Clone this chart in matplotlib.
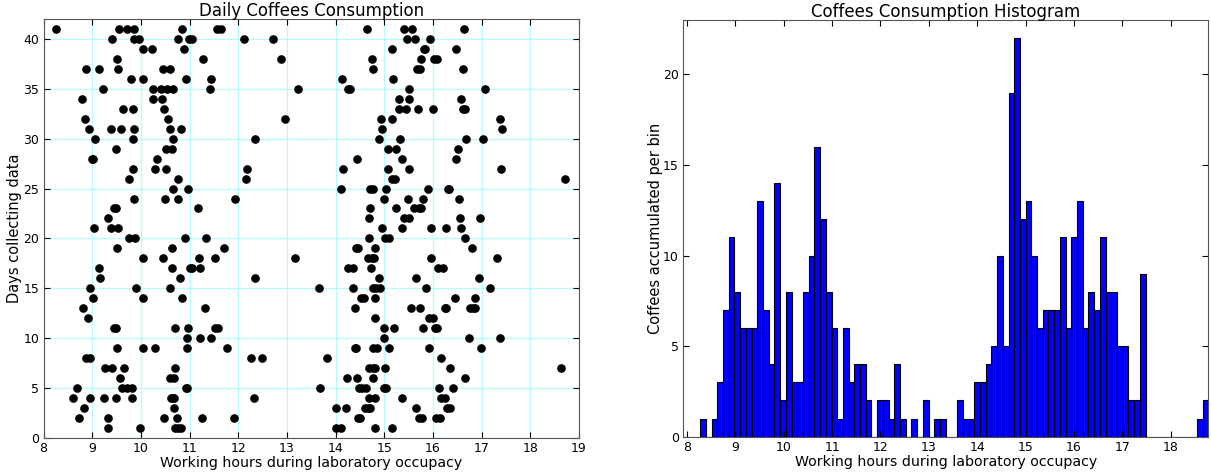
import numpy as np
import matplotlib
matplotlib.use('Agg')
import matplotlib.pyplot as plt

# Hora de cada cafe, agrupada por dia (dia 1 ... dia 41)
days = np.arange(1, 42)
hours_per_day = [
    [9.32, 9.99, 10.71, 10.76, 10.82, 14.01, 14.12, 14.82, 15.15],                         # 1
    [8.73, 9.32, 10.47, 10.74, 11.25, 11.92, 14.47, 14.50, 15.71, 15.77, 16.06, 16.15],    # 2
    [8.84, 10.68, 14.01, 14.21, 14.60, 14.66, 14.71, 15.65, 16.29, 16.36],                 # 3
    [8.61, 8.96, 9.25, 9.49, 9.82, 10.61, 10.65, 10.69, 12.32, 14.69, 14.82, 15.36, 16.17, 16.24],
    [8.68, 9.61, 9.71, 9.82, 10.92, 10.94, 13.68, 14.49, 14.55, 14.62, 14.99, 15.04, 16.13, 16.42],
    [9.57, 10.60, 10.68, 14.23, 14.44, 14.76, 16.66],                                      # 6
    [9.27, 9.40, 9.65, 10.71, 14.69, 14.76, 14.82, 15.02, 16.36, 18.64],                   # 7
    [8.88, 8.95, 12.27, 12.48, 13.82, 16.16],                                              # 8
    [9.50, 10.05, 10.29, 10.95, 11.76, 14.39, 14.42, 14.76, 14.86, 15.09, 15.93, 16.99],   # 9
    [10.95, 11.21, 11.45, 14.99, 16.75, 17.37],                                            # 10
    [9.45, 9.48, 10.71, 10.97, 11.53, 11.58, 15.00, 15.20, 15.79, 16.05, 16.09],           # 11
    [8.92, 14.81, 15.92, 16.01],                                                           # 12
    [8.82, 11.31, 14.39, 15.55, 15.73, 16.24, 16.27, 16.77, 16.83, 16.87],                 # 13
    [9.02, 10.05, 10.84, 14.52, 14.58, 14.82, 16.46, 16.86],                               # 14
    [8.96, 9.90, 10.59, 13.66, 14.36, 14.76, 14.83, 14.91, 15.86, 17.18],                  # 15
    [9.16, 10.81, 12.35, 14.90, 15.65, 16.95],                                             # 16
    [9.13, 10.63, 11.00, 11.04, 11.21, 14.25, 14.35, 14.73, 16.10, 16.20],                 # 17
    [10.05, 10.46, 11.20, 11.52, 13.16, 14.67, 14.74, 14.80, 15.97, 17.31],                # 18
    [9.50, 10.64, 11.71, 14.42, 14.47, 14.82, 16.81],                                      # 19
    [9.76, 9.87, 10.90, 11.33, 14.68, 15.01, 15.10, 16.66],                                # 20
    [9.04, 9.38, 9.53, 14.95, 15.36, 15.97, 16.27, 16.58],                                 # 21
    [9.33, 14.69, 15.41, 15.51, 16.56, 16.96],                                             # 22
    [9.45, 9.49, 11.18, 14.71, 15.25, 15.62, 15.71, 15.75],                                # 23
    [9.86, 10.49, 10.76, 11.93, 15.00, 15.49, 15.79, 16.54],                               # 24
    [10.66, 10.96, 14.12, 14.71, 14.76, 15.03, 15.89, 16.32, 16.34],                       # 25
    [9.76, 10.77, 12.16, 15.16, 15.22, 18.71],                                             # 26
    [9.84, 10.29, 10.52, 12.17, 14.16, 15.07, 15.50, 17.39],                               # 27
    [8.99, 9.01, 10.34, 14.45, 15.37, 16.47],                                              # 28
    [9.49, 10.52, 10.64, 15.07, 15.24, 16.52],                                             # 29
    [9.06, 9.84, 10.65, 12.34, 14.90, 15.32, 16.68, 17.03],                                # 30
    [8.94, 9.38, 9.60, 9.86, 10.59, 10.82, 14.95, 17.43],                                  # 31
    [8.86, 10.56, 12.97, 14.93, 15.16, 17.38],                                             # 32
    [9.63, 9.84, 10.48, 15.31, 15.45, 15.70, 16.01, 16.62, 16.66],                         # 33
    [8.78, 10.25, 10.43, 15.31, 15.50, 16.57],                                             # 34
    [9.23, 10.25, 10.42, 10.54, 10.66, 11.41, 13.23, 14.25, 14.29, 15.50, 17.08],          # 35
    [9.79, 10.05, 10.92, 11.45, 14.13, 15.19],                                             # 36
    [8.88, 9.14, 9.53, 10.46, 10.59, 14.77, 15.68, 15.73, 16.62],                          # 37
    [9.50, 11.28, 12.88, 14.75, 15.76, 16.03, 16.08],                                      # 38
    [10.04, 10.23, 10.88, 15.15, 15.81, 15.84, 16.48],                                     # 39
    [9.40, 9.86, 9.97, 10.76, 10.99, 11.05, 12.12, 12.71, 15.46, 15.64, 15.95],            # 40
    [8.25, 9.55, 9.72, 9.86, 10.84, 11.57, 11.64, 14.64, 15.41, 15.57, 16.63],             # 41
]

# Histograma: cafes por bin (89 bins entre la primera y la ultima hora)
hist_start = 8.275
hist_end = 18.775
hist_counts = [1, 0, 1, 3, 7, 11, 8, 6, 6, 6, 13, 7, 4, 14, 2, 8, 3, 3, 8, 10,
               16, 12, 8, 6, 1, 6, 3, 4, 4, 2, 0, 2, 2, 1, 4, 1, 0, 1, 0, 2,
               0, 1, 1, 0, 0, 2, 1, 1, 3, 3, 4, 5, 10, 5, 19, 22, 12, 13, 10, 6,
               7, 7, 7, 11, 6, 11, 13, 6, 8, 7, 11, 8, 8, 5, 5, 2, 2, 9, 0, 0,
               0, 0, 0, 0, 0, 0, 0, 1, 2]

hours = np.concatenate([np.array(h) for h in hours_per_day])
day_of_coffee = np.repeat(days, [len(h) for h in hours_per_day])

edges = np.linspace(hist_start, hist_end, len(hist_counts) + 1)
centers = 0.5 * (edges[:-1] + edges[1:])

fig = plt.figure(figsize=(12.11, 4.74), dpi=100)

# Grafico de dispersion
ax1 = fig.add_axes([0.036, 0.0766, 0.442, 0.883])
ax1.plot(hours, day_of_coffee, 'o', color='black', markersize=5.2, zorder=3)
ax1.set_xlim(8, 19)
ax1.set_ylim(0, 42)
ax1.set_xticks(np.arange(8, 20, 1))
ax1.set_yticks(np.arange(0, 45, 5))
ax1.grid(True, color='#b5fbfb', linestyle='-', linewidth=0.9)
ax1.set_axisbelow(True)
ax1.set_title('Daily Coffees Consumption', fontsize=12, pad=2)
ax1.set_xlabel('Working hours during laboratory occupacy', fontsize=10.2, labelpad=1)
ax1.set_ylabel('Days collecting data', fontsize=10.5, labelpad=1)

# Histograma
ax2 = fig.add_axes([0.564, 0.0787, 0.4338, 0.879])
ax2.hist(centers, bins=edges, weights=hist_counts, color='#0000ff', edgecolor='black', linewidth=0.8)
ax2.set_xlim(7.92, 18.775)
ax2.set_ylim(0, 23)
ax2.set_xticks(np.arange(8, 19, 1))
ax2.set_yticks(np.arange(0, 25, 5))
ax2.set_title('Coffees Consumption Histogram', fontsize=12, pad=2)
ax2.set_xlabel('Working hours during laboratory occupacy', fontsize=10.2, labelpad=1)
ax2.set_ylabel('Coffees accumulated per bin', fontsize=10.5, labelpad=0)

for ax in (ax1, ax2):
    ax.tick_params(direction='in', top=True, right=True, length=4, labelsize=9, pad=3)
    for s in ax.spines.values():
        s.set_color('#555555')

fig.savefig('out.png', dpi=100)
